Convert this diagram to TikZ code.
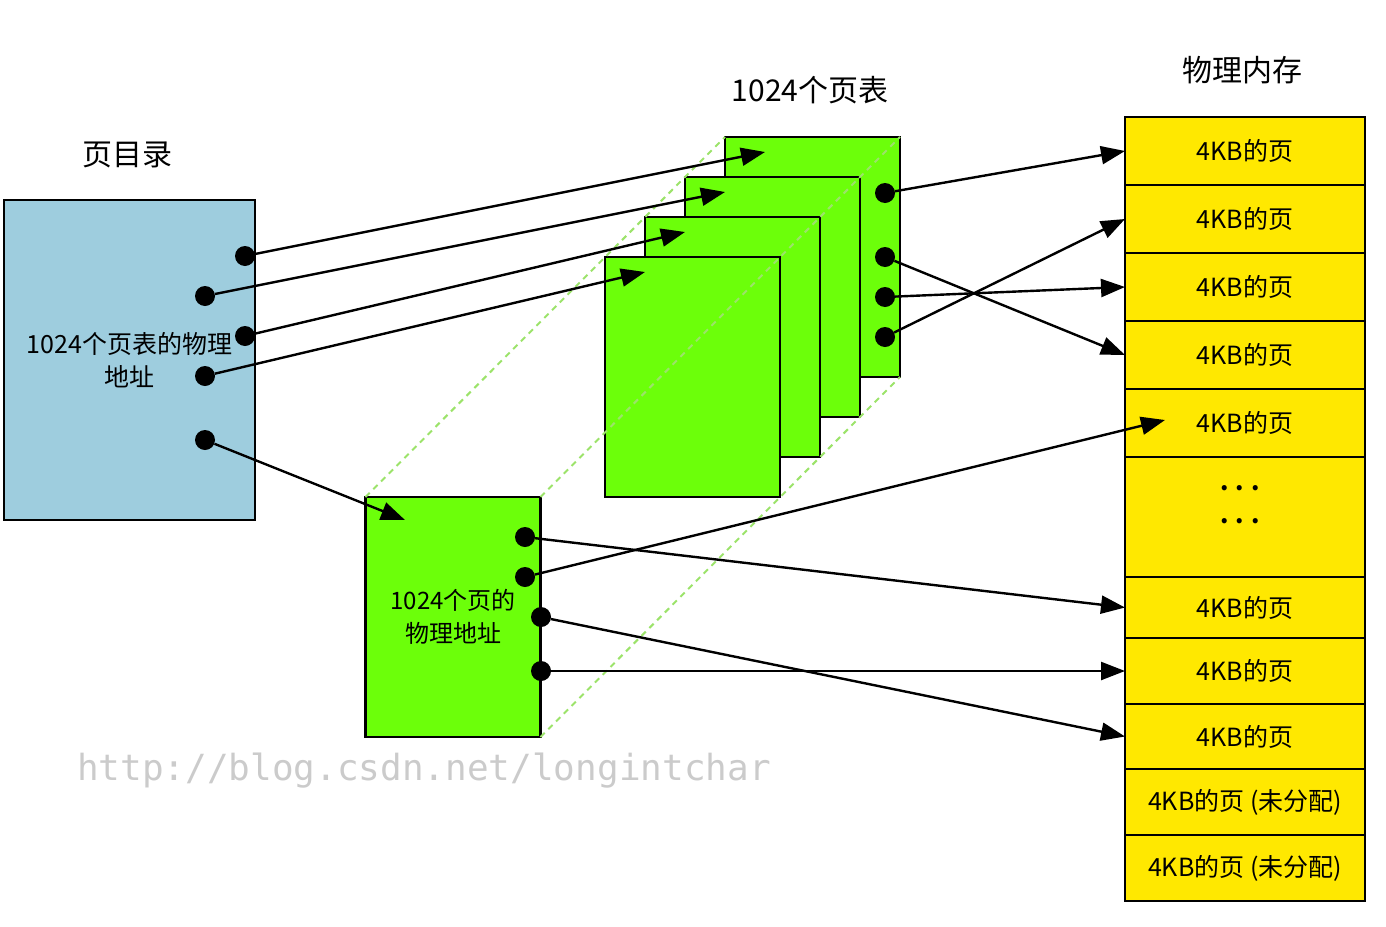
\documentclass[tikz,border=0pt]{standalone}
\usepackage{fontspec}
\newfontfamily\cjk{Noto Sans CJK SC}
\newfontfamily\wmfont{DejaVu Sans Mono}
\usetikzlibrary{positioning,arrows.meta}

\definecolor{dirblue}{HTML}{9ECDDE}
\definecolor{tblgreen}{HTML}{6CFF0A}
\definecolor{memyellow}{HTML}{FFE800}
\definecolor{guidegreen}{HTML}{9CE36A}
\definecolor{wmgray}{HTML}{CBCBCB}

\tikzset{
  dirbox/.style={draw,line width=2.2pt,fill=dirblue,inner sep=0pt,outer sep=0pt,
    minimum width=251pt,minimum height=320pt,align=center,
    font=\cjk\fontsize{25}{33}\selectfont},
  tblbox/.style={draw,line width=2.2pt,fill=tblgreen,inner sep=0pt,outer sep=0pt,
    minimum width=175pt,minimum height=240pt,align=center,
    font=\cjk\fontsize{24}{33}\selectfont},
  pagebox/.style={draw,line width=2.2pt,fill=memyellow,inner sep=0pt,outer sep=0pt,
    minimum width=240pt,font=\cjk\fontsize{25}{28}\selectfont},
  ptr/.style={circle,fill=black,inner sep=0pt,minimum size=20pt},
  link/.style={line width=2.4pt,-{Triangle[length=24pt,width=18pt]}},
  guide/.style={draw=guidegreen,line width=2pt,dash pattern=on 6pt off 5pt},
  heading/.style={font=\cjk\fontsize{30}{34}\selectfont}
}

\begin{document}
\begin{tikzpicture}[x=1pt,y=-1pt]
  \useasboundingbox (0,0) rectangle (1386,926);

  % titles
  \node[heading] (tdir) at (127,155) {页目录};
  \node[heading] (ttbl) at (810,90) {1024个页表};
  \node[heading] (tmem) at (1242,70) {物理内存};

  % page directory
  \node[dirbox] (pgdir) at (129.5,360) {1024个页表的物理\\地址};

  % page tables, back to front
  \node[tblbox] (pt0) at (812.5,257) {};
  \node[tblbox] (pt1) at (772.5,297) {};
  \node[tblbox] (pt2) at (732.5,337) {};
  \node[tblbox] (pt3) at (692.5,377) {};
  \node[tblbox] (ptab) at (453,617) {1024个页的\\物理地址};

  \draw[guide] (ptab.north west) -- (pt0.north west);
  \draw[guide] (ptab.north east) -- (pt0.north east);
  \draw[guide] (ptab.south east) -- (pt0.south east);

  % physical memory
  \node[pagebox,minimum height=68pt] (m1) at (1245,151) {4KB的页};
  \node[pagebox,minimum height=68pt,below=0pt of m1] (m2) {4KB的页};
  \node[pagebox,minimum height=68pt,below=0pt of m2] (m3) {4KB的页};
  \node[pagebox,minimum height=68pt,below=0pt of m3] (m4) {4KB的页};
  \node[pagebox,minimum height=68pt,below=0pt of m4] (m5) {4KB的页};
  \node[pagebox,minimum height=120pt,below=0pt of m5] (m6) {};
  \node[pagebox,minimum height=61pt,below=0pt of m6] (m7) {4KB的页};
  \node[pagebox,minimum height=66pt,below=0pt of m7] (m8) {4KB的页};
  \node[pagebox,minimum height=65pt,below=0pt of m8] (m9) {4KB的页};
  \node[pagebox,minimum height=66pt,below=0pt of m9] (m10) {4KB的页 (未分配)};
  \node[pagebox,minimum height=66pt,below=0pt of m10] (m11) {4KB的页 (未分配)};
  \node[align=center,font=\cjk\bfseries\fontsize{24}{33}\selectfont] (mgap) at (1240,505) {. . .\\. . .};

  % pointers
  \node[ptr] (d1) at (245,256) {};
  \node[ptr] (d2) at (205,296) {};
  \node[ptr] (d3) at (245,336) {};
  \node[ptr] (d4) at (205,376) {};
  \node[ptr] (d5) at (205,440) {};
  \node[ptr] (e1) at (885,193) {};
  \node[ptr] (e2) at (885,257) {};
  \node[ptr] (e3) at (885,297) {};
  \node[ptr] (e4) at (885,337) {};
  \node[ptr] (f1) at (525,537) {};
  \node[ptr] (f2) at (525,577) {};
  \node[ptr] (f3) at (541,617) {};
  \node[ptr] (f4) at (541,671) {};

  \coordinate (a0) at (765,152);
  \coordinate (a1) at (725,192);
  \coordinate (a2) at (685,232);
  \coordinate (a3) at (645,272);
  \coordinate (a4) at (405,520);
  \coordinate (m5in) at (1165,420);

  \draw[link] (d1) -- (a0);
  \draw[link] (d2) -- (a1);
  \draw[link] (d3) -- (a2);
  \draw[link] (d4) -- (a3);
  \draw[link] (d5) -- (a4);

  \draw[link] (e1) -- (m1.west);
  \draw[link] (e2) -- (m4.west);
  \draw[link] (e3) -- (m3.west);
  \draw[link] (e4) -- (m2.west);

  \draw[link] (f1) -- (m7.west);
  \draw[link] (f2) -- (m5in);
  \draw[link] (f3) -- (m9.west);
  \draw[link] (f4) -- (m8.west);

  % watermark
  \node[anchor=base west,inner sep=0pt,text=wmgray,font=\wmfont\fontsize{36}{40}\selectfont]
    (wm) at (77,780) {http://blog.csdn.net/longintchar};
\end{tikzpicture}
\end{document}
